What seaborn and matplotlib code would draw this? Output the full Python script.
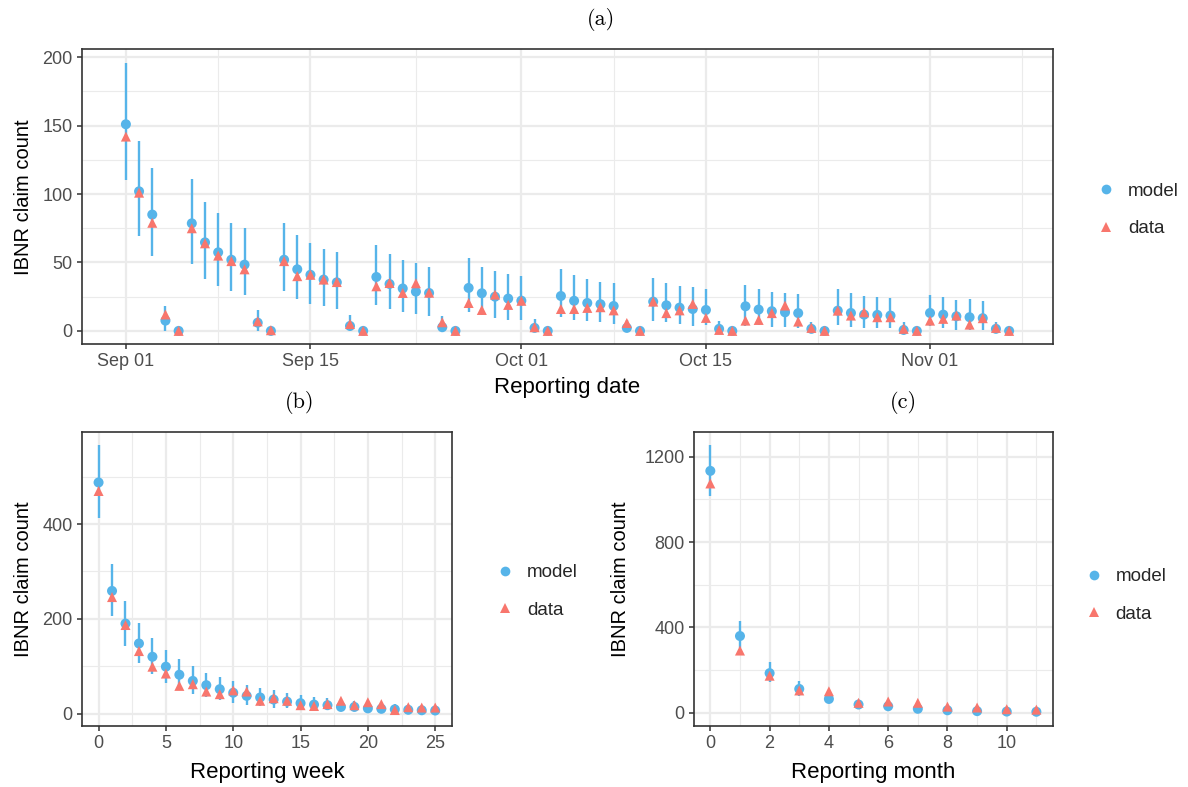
import numpy as np
import pandas as pd
import matplotlib
matplotlib.use("Agg")
import matplotlib.pyplot as plt
import matplotlib.dates as mdates
from matplotlib.ticker import FixedLocator, MultipleLocator
from matplotlib.lines import Line2D
import seaborn as sns

# ---------------- data ----------------
start_date = "2021-09-01"
n_days = 68

model_a = [151, 102, 85, 7.5, 0,
           78.6, 64.7, 57.4, 52, 48.4, 6, 0,
           52, 45, 41, 37.5, 35.5, 3.6, 0,
           39.4, 34.3, 31, 28.7, 27.7, 2.7, 0,
           31.4, 27.5, 25, 23.6, 22.1, 2.2, 0,
           25.5, 22, 20.4, 19.5, 18.2, 2.2, 0,
           21.4, 18.7, 17, 16, 15.3, 1.5, 0,
           18, 15.6, 14.4, 13.6, 13, 1.5, 0,
           14.8, 13.1, 11.9, 11.7, 11.2, 0.7, 0,
           13.1, 11.9, 10.7, 10, 9.3, 1.5, 0]
data_a = [142, 101, 79, 12, 0,
          75, 64, 55, 51, 45, 7, 0.5,
          51, 40, 41, 37.5, 35.7, 5, 0,
          32.6, 35, 27.7, 34.8, 27.9, 6.3, 0,
          20.4, 15.3, 26.5, 19, 22, 2.7, 0,
          16, 16, 16.8, 17.3, 15, 5.8, 0,
          21.4, 13, 15, 19.7, 9.5, 0.7, 0,
          7.5, 8, 13, 18.5, 6.8, 2.2, 0,
          14.8, 11.2, 13.6, 10, 10, 1.5, 0,
          7.5, 8.8, 11.2, 4.6, 9.3, 2.2, 0]
lo_a = [110, 69, 55, 0, 0,
        49, 38, 33, 29, 26, 0, 0,
        29, 23, 20, 18, 16, 0, 0,
        19, 16, 14, 12, 11, 0, 0,
        14, 11.7, 9.3, 8.3, 8.3, 0, 0,
        10, 8.3, 7, 6.3, 5, 0, 0,
        7, 6.3, 5, 3.9, 4.4, 0, 0,
        3.9, 4.4, 3.2, 3.2, 2.2, 0, 0,
        4.4, 3.2, 2.2, 2.2, 2.2, 0, 0,
        3.9, 1.8, 1, 1, 1, 0, 0]
hi_a = [196, 139, 119, 18.5, 0,
        111, 94, 86, 79, 75, 15, 0,
        79, 70, 64, 60, 58, 11.7, 0,
        63, 56, 52, 49.6, 46.5, 10.7, 0,
        53, 47, 43.8, 41.9, 40, 8.8, 0,
        45, 41, 38, 36, 35, 8, 0,
        39, 35, 33, 32, 30.7, 7.5, 0,
        33.6, 30.7, 28.7, 27.7, 26.8, 6.8, 0,
        30.7, 27.7, 25.8, 24.6, 23.9, 6.3, 0,
        26.5, 24.8, 22.8, 23, 21.7, 6.3, 0]

weeks = list(range(26))
model_b = [488, 259, 190, 148, 120, 99, 82, 69, 60, 51.5, 44, 37.4, 34,
           29.6, 25.3, 22, 19, 17.7, 14, 14, 11, 10, 9, 8, 7, 6.5]
data_b = [470, 246, 187, 132, 99, 84.5, 58.5, 62, 46.5, 41, 49, 46.5, 27,
          32.5, 27, 17.7, 16, 20, 27, 17.7, 24, 20, 7.5, 13.5, 12.7, 12.7]
lo_b = [412, 205, 142, 106, 83, 65.5, 55, 42, 35, 28, 23, 18, 16,
        11, 11, 9, 8, 8, 6, 6, 5, 4, 3, 3, 2, 2]
hi_b = [567, 315, 238, 191.5, 159, 134, 115, 100, 86.6, 77.5, 69, 60.6, 55,
        49.4, 44, 39.5, 35, 32.5, 28, 27, 24, 22, 20, 18, 17, 15]

months = list(range(12))
model_c = [1134, 360, 186, 112, 65, 39, 31, 19, 12, 8, 6, 5]
data_c = [1075, 292, 174, 105, 101, 47, 53, 47, 29, 25, 17, 15]
lo_c = [1018, 305, 143, 77, 46, 25, 18, 9, 5, 2, 1, 1]
hi_c = [1255, 429, 236, 147, 95, 55, 45, 30, 21, 16, 13, 11]

series_labels = ["model", "data"]
panel_titles = ["(a)", "(b)", "(c)"]
x_titles = ["Reporting date", "Reporting week", "Reporting month"]
y_title = "IBNR claim count"

# ---------------- style ----------------
sns.set_theme(style="white")
plt.rcParams["font.family"] = ["Liberation Sans", "DejaVu Sans"]

BLUE = "#56B4E9"
RED = "#F8766D"
palette = {"model": BLUE, "data": RED}
markers = {"model": "o", "data": "^"}


def long_df(x, model, data):
    x = list(x)
    return pd.DataFrame({
        "x": x + x,
        "y": list(model) + list(data),
        "type": ["model"] * len(model) + ["data"] * len(data),
    })


def style_axes(ax):
    for s in ax.spines.values():
        s.set_color("#333333")
        s.set_linewidth(1.2)
    ax.set_axisbelow(True)
    ax.grid(True, which="major", color="#EBEBEB", linewidth=1.6)
    ax.grid(True, which="minor", color="#EBEBEB", linewidth=0.8)
    ax.tick_params(which="major", length=3.6, width=1.1, color="#333333",
                   labelsize=13, labelcolor="#4D4D4D", pad=3,
                   bottom=True, left=True)
    ax.tick_params(which="minor", length=0)


def draw_panel(ax, x, model, data, lo, hi):
    ax.vlines(x, lo, hi, color=BLUE, linewidth=1.7, zorder=2)
    df = long_df(x, model, data)
    sns.scatterplot(data=df, x="x", y="y", hue="type", style="type",
                    palette=palette, markers=markers, s=52, linewidth=0,
                    ax=ax, legend=False, zorder=3)
    lo_all = min(min(lo), min(model), min(data))
    hi_all = max(max(hi), max(model), max(data))
    pad = 0.05 * (hi_all - lo_all)
    ax.set_ylim(lo_all - pad, hi_all + pad)


def add_legend(x_frac, y_frac):
    handles = [
        Line2D([0], [0], marker="o", linestyle="none", markerfacecolor=BLUE,
               markeredgewidth=0, markersize=7),
        Line2D([0], [0], marker="^", linestyle="none", markerfacecolor=RED,
               markeredgewidth=0, markersize=7.5),
    ]
    fig.legend(handles, series_labels, loc="center left",
               bbox_to_anchor=(x_frac, y_frac), frameon=False, fontsize=13.5,
               handlelength=1.0, handletextpad=0.65, labelspacing=1.07,
               borderpad=0, borderaxespad=0)


def set_labels(ax, xlabel, xl_y, yl_x):
    ax.set_xlabel(xlabel, fontsize=16, color="black")
    ax.set_ylabel(y_title, fontsize=14.5, color="black")
    ax.xaxis.set_label_coords(0.5, xl_y)
    ax.xaxis.label.set_va("center")
    ax.yaxis.set_label_coords(yl_x, 0.5)
    ax.yaxis.label.set_va("center")


fig = plt.figure(figsize=(11.88, 7.87), dpi=100)

# ---------------- panel (a) ----------------
ax_a = fig.add_axes([0.0688, 0.5625, 0.8178, 0.3749])
dates = pd.date_range(start_date, periods=n_days, freq="D")
style_axes(ax_a)
draw_panel(ax_a, dates, model_a, data_a, lo_a, hi_a)
d0 = mdates.date2num(dates[0])
d1 = mdates.date2num(dates[-1])
span = d1 - d0
ax_a.set_xlim(d0 - 0.05 * span, d1 + 0.05 * span)
major_dates = pd.to_datetime(["2021-08-15", "2021-09-01", "2021-09-15", "2021-10-01",
                              "2021-10-15", "2021-11-01", "2021-11-15"])
major_num = mdates.date2num(major_dates)
ax_a.xaxis.set_major_locator(FixedLocator(major_num[1:-1]))
ax_a.xaxis.set_minor_locator(FixedLocator((major_num[:-1] + major_num[1:]) / 2))
ax_a.xaxis.set_major_formatter(mdates.DateFormatter("%b %d"))
ax_a.yaxis.set_major_locator(MultipleLocator(50))
ax_a.yaxis.set_minor_locator(MultipleLocator(25))
set_labels(ax_a, x_titles[0], -0.1447, -0.0604)
add_legend(0.9234, 0.7332)

# ---------------- panel (b) ----------------
ax_b = fig.add_axes([0.0688, 0.0775, 0.3117, 0.374])
style_axes(ax_b)
draw_panel(ax_b, weeks, model_b, data_b, lo_b, hi_b)
ax_b.set_xlim(-1.25, 26.25)
ax_b.xaxis.set_major_locator(MultipleLocator(5))
ax_b.xaxis.set_minor_locator(MultipleLocator(2.5))
ax_b.yaxis.set_major_locator(MultipleLocator(200))
ax_b.yaxis.set_minor_locator(MultipleLocator(100))
set_labels(ax_b, x_titles[1], -0.1563, -0.1585)
add_legend(0.4175, 0.2484)

# ---------------- panel (c) ----------------
ax_c = fig.add_axes([0.5842, 0.0775, 0.3019, 0.374])
style_axes(ax_c)
draw_panel(ax_c, months, model_c, data_c, lo_c, hi_c)
ax_c.set_xlim(-0.55, 11.55)
ax_c.xaxis.set_major_locator(MultipleLocator(2))
ax_c.xaxis.set_minor_locator(MultipleLocator(1))
ax_c.yaxis.set_major_locator(MultipleLocator(400))
ax_c.yaxis.set_minor_locator(MultipleLocator(200))
set_labels(ax_c, x_titles[2], -0.1563, -0.206)
add_legend(0.9129, 0.2433)

# ---------------- titles ----------------
title_pos = [(0.5059, 0.9746), (0.2525, 0.488), (0.7601, 0.488)]
for t, (tx, ty) in zip(panel_titles, title_pos):
    fig.text(tx, ty, t, ha="center", va="center", fontsize=16,
             family=["cmr10", "DejaVu Serif"], color="black")

fig.savefig("out.png", dpi=100)
